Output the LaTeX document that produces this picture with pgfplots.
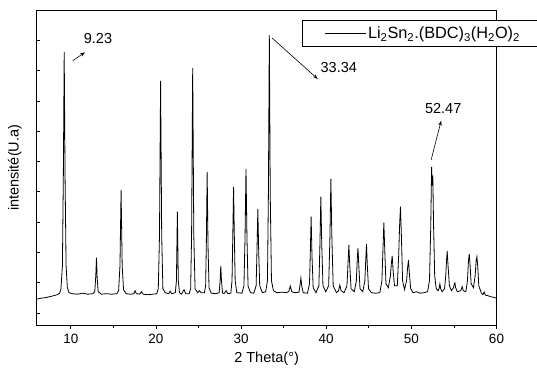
\documentclass[border=0pt]{standalone}
\usepackage{pgfplots}
\pgfplotsset{compat=1.18}
\usepackage{fontspec}
\setmainfont{Liberation Sans}
\usetikzlibrary{arrows.meta}
\begin{document}
\begin{tikzpicture}[x=1pt,y=1pt]
\useasboundingbox (0,0) rectangle (537,372);
\begin{axis}[
  at={(36.7pt,46.3pt)}, anchor=south west,
  scale only axis, width=459.8pt, height=315.7pt,
  xmin=6, xmax=60, ymin=0, ymax=315.7,
  xtick={10,20,30,40,50,60},
  minor xtick={15,25,35,45,55},
  ytick={12.7,43,73.3,103.6,133.9,164.2,194.5,224.8,255.1,285.4},
  yticklabels={},
  xtick pos=bottom, ytick pos=left,
  tick align=outside,
  major tick length=3.5pt, minor tick length=2pt,
  ytick style={xshift=3.5pt},
  tick style={black, line width=0.6pt},
  axis line style={line width=0.8pt},
  /pgf/number format/assume math mode=true,
  ticklabel style={font=\fontsize{13.5}{15}\selectfont},
  xticklabel style={yshift=-1.5pt},
  xlabel={2 Theta(°)},
  ylabel={intensité(U.a)},
  label style={font=\fontsize{14.5}{16}\selectfont},
  xlabel style={at={(axis description cs:0.5,0)}, anchor=center, yshift=-33pt},
  ylabel style={at={(axis description cs:0,0.5)}, anchor=center, yshift=22pt},
  legend style={at={(rel axis cs:0.577,0.968)}, anchor=north west, draw=black, line width=0.6pt,
    font=\fontsize{16.3}{18}\selectfont, inner xsep=22pt, inner ysep=4.5pt},
  legend cell align=left,
  legend image code/.code={\draw[#1, line width=0.7pt] (0pt,0pt) -- (41pt,0pt);},
]
\addplot[black, line width=0.8pt] coordinates {
(6.0,26.5) (6.5,27.5) (7.0,28) (7.5,29) (8.0,30) (8.4,31) (8.7,32.5) (8.85,37) (9.02,60) (9.13,150) (9.23,273.7) (9.33,150) (9.45,60) (9.6,38) (9.8,33) (10.2,32) (10.8,31.5) (11.4,32.5) (12.0,31.5) (12.6,32) (12.82,34) (12.94,50) (13.02,68) (13.1,48) (13.22,34) (13.6,31.5) (14.2,32) (14.8,31.5) (15.4,32) (15.62,35) (15.78,60) (15.91,135.7) (16.04,60) (16.2,36) (16.5,32) (17.0,31.5) (17.4,32) (17.55,35) (17.7,32) (18.1,31.5) (18.3,34) (18.5,31.5) (19.0,31) (19.6,31.5) (20.1,32) (20.28,37) (20.42,90) (20.55,244.7) (20.68,90) (20.82,37) (21.1,33) (21.5,32) (21.67,34.5) (21.85,32) (22.28,33) (22.41,45) (22.52,114) (22.63,45) (22.77,33) (23.0,31.5) (23.3,36) (23.5,32) (23.9,32) (24.08,37) (24.19,90) (24.32,257.7) (24.45,90) (24.6,37) (24.9,33) (25.1,35) (25.3,33) (25.7,33) (25.84,40) (25.92,80) (26.02,153.7) (26.12,80) (26.24,38) (26.5,32.5) (27.0,32) (27.43,33) (27.54,45) (27.62,59.7) (27.7,45) (27.82,33) (28.0,32) (28.25,35) (28.45,32) (28.8,32.5) (28.94,45) (29.03,90) (29.12,138.7) (29.21,90) (29.31,45) (29.5,33) (30.1,32.5) (30.34,40) (30.47,90) (30.58,156.7) (30.69,90) (30.82,40) (31.1,33) (31.5,32.5) (31.77,40) (31.87,75) (31.97,116.7) (32.07,75) (32.19,40) (32.5,33) (32.9,34) (33.1,45) (33.21,130) (33.32,290.7) (33.43,130) (33.57,45) (33.8,35) (34.2,33) (34.8,33.5) (35.3,33) (35.6,34) (35.78,39.7) (35.95,34) (36.3,33) (36.8,33.5) (36.95,42) (37.03,47.7) (37.12,40) (37.3,33) (37.8,32.5) (38.04,42) (38.14,75) (38.23,109) (38.33,70) (38.47,38) (38.8,33) (39.14,40) (39.26,80) (39.37,129) (39.48,80) (39.62,40) (39.95,34) (40.29,40) (40.44,90) (40.55,146.7) (40.66,90) (40.82,40) (41.2,33) (41.45,35) (41.6,40.7) (41.75,35) (42.1,33) (42.44,40) (42.56,62) (42.66,80.7) (42.77,60) (42.92,37) (43.3,34) (43.54,45) (43.64,65) (43.73,77.7) (43.83,60) (43.97,37) (44.3,34) (44.54,45) (44.64,65) (44.73,81.7) (44.83,60) (44.97,37) (45.3,33) (45.8,32.5) (46.3,33) (46.54,45) (46.66,75) (46.77,103) (46.88,75) (47.02,42) (47.3,38) (47.54,50) (47.65,62) (47.75,69.7) (47.86,55) (48.02,40) (48.35,40) (48.51,70) (48.62,100) (48.72,119) (48.83,90) (48.97,45) (49.2,36) (49.44,45) (49.56,58) (49.66,65.7) (49.77,52) (49.92,37) (50.2,33) (50.6,34) (51.0,32.5) (51.5,33) (51.9,34) (52.13,45) (52.28,100) (52.38,158.7) (52.45,140) (52.52,150) (52.61,100) (52.74,50) (52.92,37) (53.15,35) (53.28,38) (53.35,41.7) (53.45,37) (53.6,34) (53.9,37) (54.04,50) (54.13,65) (54.21,74.7) (54.31,60) (54.47,40) (54.7,35) (54.95,38) (55.05,42) (55.11,43) (55.2,38) (55.4,34) (55.8,35) (55.97,39) (56.1,35) (56.4,34) (56.59,45) (56.71,65) (56.8,71.7) (56.89,62) (57.02,42) (57.3,38) (57.49,50) (57.61,65) (57.7,69) (57.79,60) (57.92,40) (58.2,33) (58.4,31) (58.55,33.7) (58.7,30.5) (59.0,30) (59.3,29) (59.6,28.5) (60.0,27.5)
};
\addlegendentry{Li\textsubscript{2}Sn\textsubscript{2}.(BDC)\textsubscript{3}(H\textsubscript{2}O)\textsubscript{2}}
\draw[-{Stealth[length=5pt,width=3.5pt]}, line width=0.6pt] (axis cs:10.23,265) -- (axis cs:11.67,273.4);
\node[font=\fontsize{14.5}{16}\selectfont] at (axis cs:13.2,286.7) {9.23};
\draw[-{Stealth[length=5pt,width=3.5pt]}, line width=0.6pt] (axis cs:33.64,287.7) -- (axis cs:39.01,246.7);
\node[font=\fontsize{14.5}{16}\selectfont] at (axis cs:41.48,257.7) {33.34};
\draw[-{Stealth[length=5pt,width=3.5pt]}, line width=0.6pt] (axis cs:52.32,165.7) -- (axis cs:53.5,205);
\node[font=\fontsize{14.5}{16}\selectfont] at (axis cs:53.74,216.7) {52.47};
\end{axis}
\end{tikzpicture}
\end{document}
